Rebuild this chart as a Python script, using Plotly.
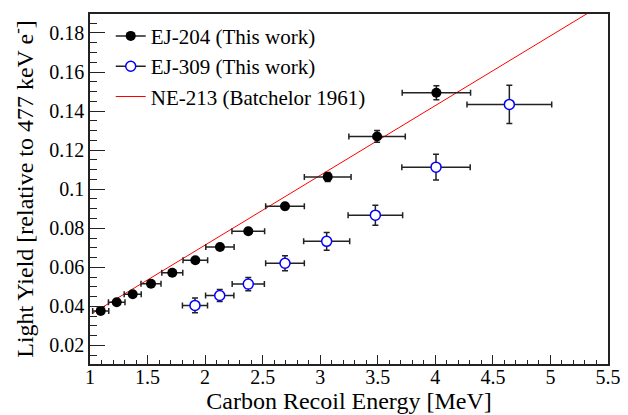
import plotly.graph_objects as go

# EJ-204 (This work)
ej204_x = [1.093, 1.232, 1.371, 1.530, 1.715, 1.915, 2.129, 2.375, 2.694, 3.065, 3.494, 4.009]
ej204_y = [0.0377, 0.0421, 0.0462, 0.0516, 0.0572, 0.0636, 0.0704, 0.0785, 0.0913, 0.1063, 0.1270, 0.1494]
ej204_xerr = [0.070, 0.072, 0.074, 0.087, 0.091, 0.107, 0.123, 0.142, 0.168, 0.203, 0.245, 0.297]
ej204_yerr = [0.0010, 0.0010, 0.0010, 0.0011, 0.0012, 0.0013, 0.0014, 0.0015, 0.0017, 0.0023, 0.0030, 0.0036]

# EJ-309 (This work)
ej309_x = [1.912, 2.127, 2.375, 2.694, 3.056, 3.479, 4.006, 4.643]
ej309_y = [0.0405, 0.0456, 0.0514, 0.0621, 0.0733, 0.0867, 0.1113, 0.1434]
ej309_xerr = [0.109, 0.123, 0.140, 0.168, 0.200, 0.237, 0.297, 0.368]
ej309_yerr = [0.0038, 0.0031, 0.0034, 0.0038, 0.0045, 0.0051, 0.0066, 0.0098]

# NE-213 (Batchelor 1961)
ne213_x = [1.02, 5.40]
ne213_y = [0.0364, 0.1928]

x_tickvals = [1, 1.5, 2, 2.5, 3, 3.5, 4, 4.5, 5, 5.5]
x_ticktext = ["1", "1.5", "2", "2.5", "3", "3.5", "4", "4.5", "5", "5.5"]
y_tickvals = [0.02, 0.04, 0.06, 0.08, 0.1, 0.12, 0.14, 0.16, 0.18]
y_ticktext = ["0.02", "0.04", "0.06", "0.08", "0.1", "0.12", "0.14", "0.16", "0.18"]

FONT = "Times New Roman, Liberation Serif, DejaVu Serif, serif"
ERRC = "#222222"

fig = go.Figure()

fig.add_trace(go.Scatter(
    x=ne213_x, y=ne213_y, mode="lines",
    line=dict(color="#ff0000", width=1),
    showlegend=False, hoverinfo="skip"))

fig.add_trace(go.Scatter(
    x=ej204_x, y=ej204_y, mode="markers",
    marker=dict(symbol="circle", size=10, color="black"),
    error_x=dict(type="data", array=ej204_xerr, color=ERRC, thickness=1.5, width=3),
    error_y=dict(type="data", array=ej204_yerr, color=ERRC, thickness=1.5, width=3),
    showlegend=False))

fig.add_trace(go.Scatter(
    x=ej309_x, y=ej309_y, mode="markers",
    marker=dict(symbol="circle", size=10, color="white", line=dict(color="#0000ff", width=1.5)),
    error_x=dict(type="data", array=ej309_xerr, color=ERRC, thickness=1.5, width=3),
    error_y=dict(type="data", array=ej309_yerr, color=ERRC, thickness=1.5, width=3),
    showlegend=False))

# legend entries
fig.add_trace(go.Scatter(
    x=[None], y=[None], mode="lines+markers", name="EJ-204 (This work)",
    marker=dict(symbol="circle", size=10, color="black"),
    line=dict(color=ERRC, width=1.5)))
fig.add_trace(go.Scatter(
    x=[None], y=[None], mode="lines+markers", name="EJ-309 (This work)",
    marker=dict(symbol="circle", size=10, color="white", line=dict(color="#0000ff", width=1.5)),
    line=dict(color=ERRC, width=1.5)))
fig.add_trace(go.Scatter(
    x=[None], y=[None], mode="lines", name="NE-213 (Batchelor 1961)",
    line=dict(color="#ff0000", width=1)))

# page body has an 8px margin: figure is sized/margined to compensate
fig.update_layout(
    width=620, height=407,
    margin=dict(l=82, r=20, t=6, b=51),
    paper_bgcolor="white", plot_bgcolor="white",
    font=dict(family=FONT, size=20, color="black"),
    showlegend=True,
    legend=dict(x=0.04, y=0.995, xanchor="left", yanchor="top",
                bgcolor="rgba(0,0,0,0)", font=dict(family=FONT, size=21),
                itemwidth=30, tracegroupgap=0),
    xaxis=dict(
        range=[1, 5.5], tickvals=x_tickvals, ticktext=x_ticktext,
        ticks="inside", ticklen=9, tickwidth=1, tickcolor="#222",
        minor=dict(ticks="inside", ticklen=4, dtick=0.1, tick0=1, tickcolor="#222"),
        showline=True, linecolor="#222", linewidth=1.5, mirror=True,
        showgrid=False, zeroline=False, automargin=False,
        tickfont=dict(family=FONT, size=20), ticklabelstandoff=-6,
        title=dict(text="Carbon Recoil Energy [MeV]", font=dict(family=FONT, size=24), standoff=0),
    ),
    yaxis=dict(
        range=[0.0105, 0.1897], tickvals=y_tickvals, ticktext=y_ticktext,
        ticks="inside", ticklen=15, tickwidth=1, tickcolor="#222",
        minor=dict(ticks="inside", ticklen=7, dtick=0.005, tick0=0, tickcolor="#222"),
        showline=True, linecolor="#222", linewidth=1.5, mirror=True,
        showgrid=False, zeroline=False, automargin=False,
        tickfont=dict(family=FONT, size=20),
        title=dict(text="Light Yield [relative to 477 keV e<sup>-</sup>]", font=dict(family=FONT, size=24), standoff=18),
    ),
)

fig.write_html("out.html")
